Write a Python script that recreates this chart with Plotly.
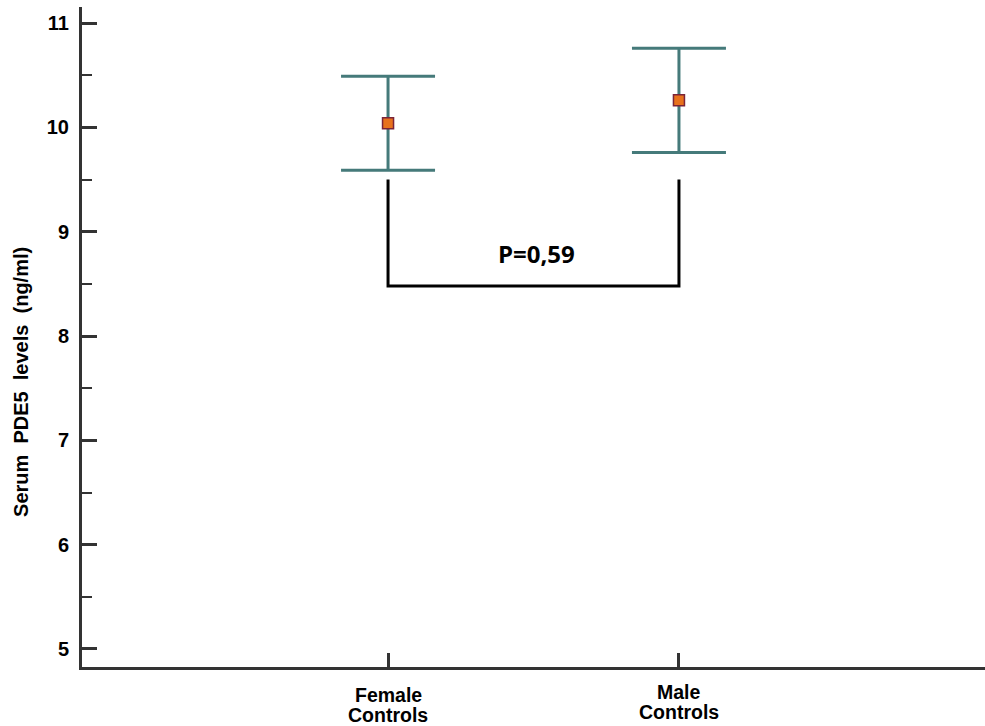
import plotly.graph_objects as go

# ---- data ----
categories = ["Female Controls", "Male Controls"]
label_line1 = ["Female", "Male"]
label_line2 = ["Controls", "Controls"]
means = [10.04, 10.26]
upper = [10.49, 10.76]
lower = [9.59, 9.76]
bracket_top = 9.50
bracket_bottom = 8.48
p_text = "P=0,59"
p_y = 8.79
y_ticks = [5, 6, 7, 8, 9, 10, 11]
y_title = "Serum\u00a0 PDE5\u00a0 levels\u00a0 (ng/ml)"

err_plus = [u - m for u, m in zip(upper, means)]
err_minus = [m - l for m, l in zip(means, lower)]

AX = "#333333"
TEAL = "#457a7a"
FONT = "Arial, Liberation Sans"

fig = go.Figure()

# bracket
fig.add_trace(go.Scatter(
    x=[0, 0, 1, 1],
    y=[bracket_top, bracket_bottom, bracket_bottom, bracket_top],
    mode="lines", line=dict(color="black", width=3),
    hoverinfo="skip", showlegend=False))

# means with error bars
fig.add_trace(go.Scatter(
    x=[0, 1], y=means, mode="markers",
    marker=dict(symbol="square", size=11, color="#e8711c",
                line=dict(color="#7a2438", width=1.5)),
    error_y=dict(type="data", symmetric=False, array=err_plus,
                 arrayminus=err_minus, color=TEAL, thickness=3, width=47),
    showlegend=False))

annotations = []
for i, (a, b) in enumerate(zip(label_line1, label_line2)):
    shift = 3 if i == 1 else 0
    annotations.append(dict(x=i, y=0, xref="x", yref="paper", text="<b>%s</b>" % a,
                            showarrow=False, yanchor="middle", yshift=-28 + shift,
                            font=dict(family=FONT, size=19.5, color="black")))
    annotations.append(dict(x=i, y=0, xref="x", yref="paper", text="<b>%s</b>" % b,
                            showarrow=False, yanchor="middle", yshift=-48 + shift,
                            font=dict(family=FONT, size=19.5, color="black")))

annotations.append(dict(x=0.5, y=p_y, xref="x", yref="y", text="<b>%s</b>" % p_text,
                        showarrow=False, xshift=3,
                        font=dict(family="Open Sans", size=24, color="black")))

annotations.append(dict(x=-0.0675, y=0.432, xref="paper", yref="paper",
                        xanchor="center", yanchor="middle",
                        text="<b>%s</b>" % y_title, textangle=-90,
                        showarrow=False,
                        font=dict(family=FONT, size=20, color="black")))

fig.update_layout(
    width=985, height=726,
    margin=dict(l=82, r=0, t=7, b=59),
    paper_bgcolor="white", plot_bgcolor="white",
    annotations=annotations,
    xaxis=dict(range=[-1.052, 2.052], tickvals=[0, 1], ticktext=categories,
               showticklabels=False, ticks="inside", ticklen=14, tickwidth=3,
               tickcolor=AX, showline=True, linecolor=AX, linewidth=3,
               showgrid=False, zeroline=False, fixedrange=True),
    yaxis=dict(range=[4.827, 11.155], tickvals=y_ticks,
               ticktext=["<b>%d</b>" % v for v in y_ticks],
               ticks="inside", ticklen=15, tickwidth=3, tickcolor=AX,
               ticklabelstandoff=6,
               minor=dict(dtick=0.5, ticks="inside", ticklen=10, tickwidth=2, tickcolor=AX),
               tickfont=dict(family=FONT, size=20, color="black"),
               showline=True, linecolor=AX, linewidth=3,
               showgrid=False, zeroline=False, fixedrange=True),
)

fig.write_html("out.html")
